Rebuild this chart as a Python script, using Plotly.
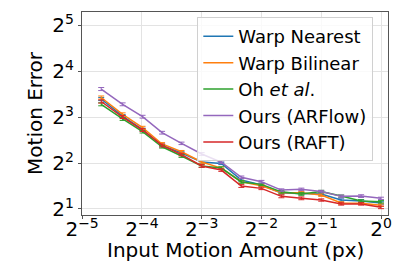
import plotly.graph_objects as go

# Input motion amounts (px)
motion = [0.039, 0.050, 0.063, 0.079, 0.099, 0.125, 0.157, 0.198, 0.25, 0.315, 0.397, 0.5, 0.63, 0.794, 1.0]

series_names = ["Warp Nearest", "Warp Bilinear", "Oh <i>et al</i>.", "Ours (ARFlow)", "Ours (RAFT)"]

warp_nearest = [10.53, 8.14, 6.64, 5.22, 4.66, 4.07, 3.98, 3.10, 2.87, 2.55, 2.53, 2.51, 2.29, 2.26, 2.19]
warp_bilinear = [10.77, 8.36, 6.83, 5.34, 4.75, 4.07, 3.71, 3.02, 2.84, 2.56, 2.56, 2.47, 2.19, 2.18, 2.12]
oh_et_al = [9.72, 7.79, 6.43, 5.12, 4.45, 3.83, 3.71, 3.01, 2.90, 2.59, 2.51, 2.60, 2.43, 2.26, 2.23]
ours_arflow = [12.24, 9.72, 8.06, 6.33, 5.39, 4.59, 4.05, 3.23, 3.02, 2.66, 2.69, 2.60, 2.42, 2.43, 2.35]
ours_raft = [10.14, 8.02, 6.59, 5.22, 4.55, 3.83, 3.60, 2.83, 2.73, 2.42, 2.35, 2.29, 2.16, 2.16, 2.05]

err_nearest = [0.25, 0.18, 0.14, 0.11, 0.09, 0.08, 0.07, 0.06, 0.05, 0.05, 0.05, 0.05, 0.04, 0.04, 0.04]
err_bilinear = [0.25, 0.18, 0.14, 0.11, 0.09, 0.08, 0.07, 0.06, 0.05, 0.05, 0.05, 0.05, 0.04, 0.04, 0.04]
err_oh = [0.22, 0.17, 0.13, 0.10, 0.09, 0.07, 0.07, 0.06, 0.05, 0.05, 0.05, 0.05, 0.04, 0.04, 0.04]
err_arflow = [0.28, 0.21, 0.17, 0.13, 0.10, 0.09, 0.08, 0.06, 0.06, 0.05, 0.05, 0.05, 0.05, 0.05, 0.04]
err_raft = [0.24, 0.18, 0.14, 0.11, 0.09, 0.08, 0.07, 0.06, 0.05, 0.05, 0.05, 0.04, 0.04, 0.04, 0.04]

colors = ["#1f77b4", "#ff7f0e", "#2ca02c", "#9467bd", "#d62728"]

x_tickvals = [2**-5, 2**-4, 2**-3, 2**-2, 2**-1, 2**0]
x_ticktext = ["2<sup>\u22125</sup>", "2<sup>\u22124</sup>", "2<sup>\u22123</sup>",
              "2<sup>\u22122</sup>", "2<sup>\u22121</sup>", "2<sup>0</sup>"]
y_tickvals = [2, 4, 8, 16, 32]
y_ticktext = ["2<sup>1</sup>", "2<sup>2</sup>", "2<sup>3</sup>", "2<sup>4</sup>", "2<sup>5</sup>"]

all_vals = [warp_nearest, warp_bilinear, oh_et_al, ours_arflow, ours_raft]
all_errs = [err_nearest, err_bilinear, err_oh, err_arflow, err_raft]

fig = go.Figure()
for name, vals, errs, c in zip(series_names, all_vals, all_errs, colors):
    fig.add_trace(go.Scatter(
        x=motion, y=vals, name=name, mode="lines",
        line=dict(color=c, width=1.5),
        error_y=dict(type="data", array=errs, color=c, thickness=1, width=3),
        legendgroup=name,
    ))

font_family = "DejaVu Sans"
plot_h = 264 - 12 - 49
fig.update_layout(
    width=415, height=264,
    margin=dict(l=82, r=27, t=12, b=49),
    paper_bgcolor="white", plot_bgcolor="white",
    font=dict(family=font_family, color="black", size=20),
    showlegend=True,
    legend=dict(
        x=0.952, xanchor="right", y=0.975, yanchor="top",
        bgcolor="rgba(255,255,255,0.8)", bordercolor="#d0d0d0", borderwidth=1,
        font=dict(size=18, family=font_family),
        traceorder="normal", tracegroupgap=5,
    ),
    annotations=[
        dict(text="Input Motion Amount (px)", x=0.5, xref="paper",
             y=(215 - 250) / plot_h, yref="paper", yanchor="middle",
             showarrow=False, font=dict(size=20)),
    ],
)

fig.update_xaxes(
    type="log", range=[-1.5056, 0.0352], automargin=False,
    tickvals=x_tickvals, ticktext=x_ticktext,
    showgrid=True, gridcolor="#e3e3e3", gridwidth=1,
    showline=True, linecolor="#555", linewidth=1, mirror=True,
    ticks="outside", ticklen=3, tickcolor="#555",
    ticklabelstandoff=-7,
    tickfont=dict(size=20), zeroline=False,
)
fig.update_yaxes(
    type="log", range=[0.2616, 1.593], automargin=False,
    tickvals=y_tickvals, ticktext=y_ticktext,
    showgrid=True, gridcolor="#e3e3e3", gridwidth=1,
    showline=True, linecolor="#555", linewidth=1, mirror=True,
    ticks="outside", ticklen=3, tickcolor="#555",
    title=dict(text="Motion Error", font=dict(size=20), standoff=4),
    tickfont=dict(size=20), zeroline=False,
)

fig.write_html("out.html", config={"displayModeBar": False},
               post_script="document.body.style.margin='0';")
